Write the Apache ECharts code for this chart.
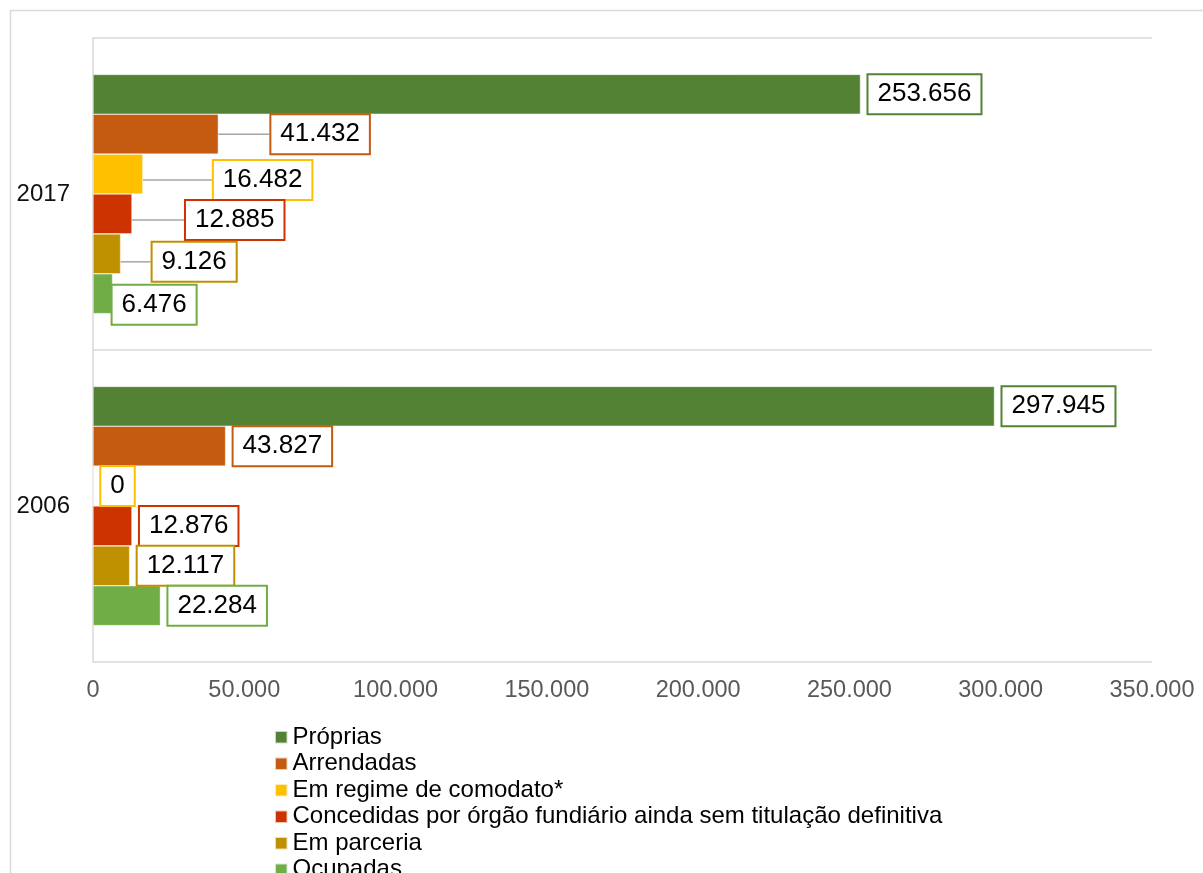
<!DOCTYPE html>
<html>
<head>
<meta charset="utf-8">
<script src="https://cdn.jsdelivr.net/npm/echarts@6/dist/echarts.min.js"></script>
<style>
html,body{margin:0;padding:0;background:#fff;}
#chart{width:1203px;height:873px;}
</style>
</head>
<body>
<div id="chart"></div>
<script>
// ---- data ----
const categories = ['2006', '2017'];
const seriesNames = [
  'Próprias',
  'Arrendadas',
  'Em regime de comodato*',
  'Concedidas por órgão fundiário ainda sem titulação definitiva',
  'Em parceria',
  'Ocupadas'
];
const propriasValues    = [297945, 253656];
const arrendadasValues  = [43827, 41432];
const comodatoValues    = [0, 16482];
const concedidasValues  = [12876, 12885];
const parceriaValues    = [12117, 9126];
const ocupadasValues    = [22284, 6476];
const xTickMin = 0, xTickMax = 350000, xTickStep = 50000;

// ---- styling (not data) ----
const seriesValues = [propriasValues, arrendadasValues, comodatoValues, concedidasValues, parceriaValues, ocupadasValues];
const colors = ['#548235', '#C55A11', '#FFC000', '#CC3300', '#BF9000', '#70AD47'];
// label displacement (dx, dy) per series for each category index [2006, 2017]
const labelShift = [
  [[0,0],[0,0]],
  [[0,0],[45,0]],
  [[0,0],[63,6]],
  [[0,0],[46,6]],
  [[0,0],[24,8]],
  [[0,0],[-8,11]]
];
const FONT = '"Liberation Sans", Arial, sans-serif';
function fmt(v){ return String(v).replace(/\B(?=(\d{3})+(?!\d))/g, '.'); }

const series = seriesNames.map((name, si) => ({
  name: name,
  type: 'bar',
  barGap: '0%',
  barCategoryGap: '23.3%',
  itemStyle: { color: colors[si], borderColor: 'rgba(255,255,255,0.7)', borderWidth: 0.6 },
  data: seriesValues[si].map((v, di) => {
    const s = labelShift[si][di];
    return (s[0] > 10) ? { value: v, labelLine: { show: true } } : v;
  }),
  label: {
    show: true,
    position: 'right',
    distance: 8,
    formatter: p => fmt(p.value),
    fontFamily: FONT,
    fontSize: 26,
    color: '#000',
    backgroundColor: '#fff',
    borderColor: colors[si],
    borderWidth: 2,
    padding: [6, 9]
  },
  labelLine: {
    show: false,
    lineStyle: { color: '#a6a6a6', width: 1.5 }
  },
  labelLayout: function (params) {
    const s = labelShift[params.seriesIndex][params.dataIndex];
    return { dx: s[0], dy: s[1] };
  }
}));

const chart = echarts.init(document.getElementById('chart'), null, { renderer: 'canvas' });
chart.setOption({
  animation: false,
  backgroundColor: '#fff',
  textStyle: { fontFamily: FONT },
  graphic: [{
    type: 'rect',
    left: 8, top: 8,
    shape: { width: 1250, height: 950 },
    style: { fill: null, stroke: '#d9d9d9', lineWidth: 1.5 },
    silent: true
  }],
  grid: { left: 93, top: 38, right: 51, bottom: 211, containLabel: false },
  xAxis: {
    type: 'value',
    min: xTickMin, max: xTickMax, interval: xTickStep,
    axisLine: { show: false },
    axisTick: { show: false },
    splitLine: { show: false },
    axisLabel: {
      formatter: v => fmt(v),
      color: '#595959',
      fontSize: 23.5,
      fontFamily: FONT,
      margin: 17
    }
  },
  yAxis: {
    type: 'category',
    data: categories,
    axisLine: { show: true, lineStyle: { color: '#d9d9d9', width: 1.5 } },
    axisTick: { show: false },
    splitLine: { show: true, lineStyle: { color: '#d9d9d9', width: 1.5 } },
    axisLabel: { color: '#111', fontSize: 24, fontFamily: FONT, margin: 23 }
  },
  legend: {
    orient: 'vertical',
    left: 269, top: 719,
    height: 300,
    itemWidth: 12.5, itemHeight: 12.5,
    itemGap: 0,
    icon: 'rect',
    selectedMode: false,
    textStyle: { fontSize: 24, lineHeight: 26.5, color: '#000', fontFamily: FONT },
    data: seriesNames
  },
  series: series
});
</script>
</body>
</html>
